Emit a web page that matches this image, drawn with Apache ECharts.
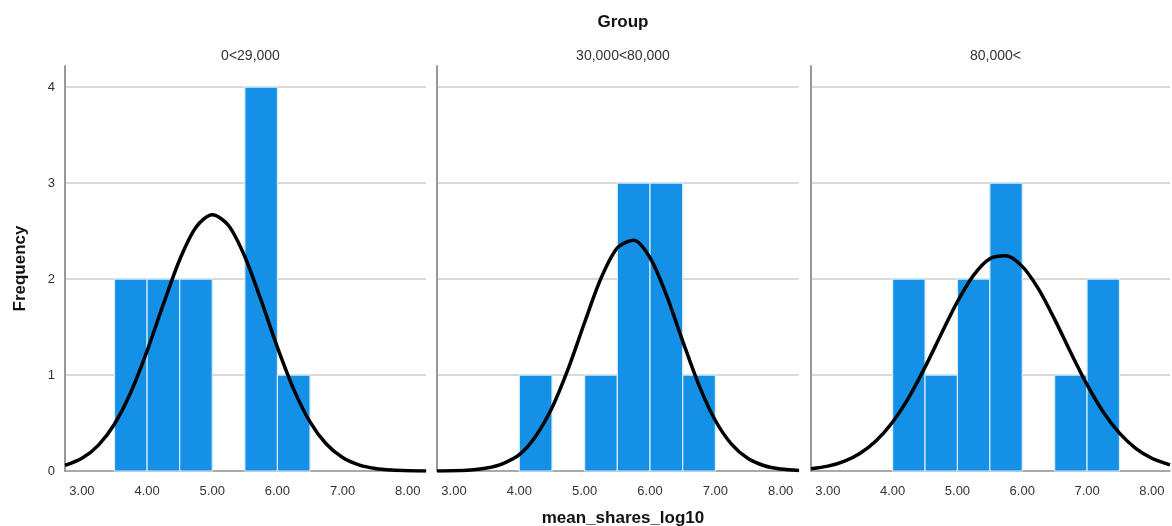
<!DOCTYPE html>
<html>
<head>
<meta charset="utf-8">
<script src="https://cdn.jsdelivr.net/npm/echarts@6/dist/echarts.min.js"></script>
<style>
html,body{margin:0;padding:0;background:#fff;}
#main{width:1172px;height:526px;}
</style>
</head>
<body>
<div id="main"></div>
<script>
// 分组名称
var groups = ['0<29,000', '30,000<80,000', '80,000<'];
// 直方图：每组的起点 (组宽 0.5)
var binWidth = 0.5;
var binStarts = [[3.5, 4.0, 4.5, 5.5, 6.0], [4.0, 5.0, 5.5, 6.0, 6.5], [4.0, 4.5, 5.0, 5.5, 6.5, 7.0]];
var binCounts = [[2, 2, 2, 4, 1], [1, 1, 3, 3, 1], [2, 1, 2, 3, 1, 2]];
// 正态曲线
var curveX = [2.74, 3.0, 3.25, 3.5, 3.75, 4.0, 4.25, 4.5, 4.75, 5.0, 5.25, 5.5, 5.75, 6.0, 6.25, 6.5, 6.75, 7.0, 7.25, 7.5, 7.75, 8.0, 8.28];
var curve1 = [0.058, 0.132, 0.267, 0.490, 0.820, 1.251, 1.738, 2.201, 2.539, 2.670, 2.558, 2.233, 1.777, 1.288, 0.851, 0.512, 0.281, 0.141, 0.064, 0.027, 0.010, 0.003, 0.001];
var curve2 = [0.001, 0.003, 0.011, 0.031, 0.078, 0.170, 0.363, 0.659, 1.069, 1.550, 2.008, 2.325, 2.405, 2.222, 1.835, 1.354, 0.893, 0.526, 0.277, 0.130, 0.055, 0.021, 0.006];
var curve3 = [0.024, 0.051, 0.101, 0.185, 0.317, 0.510, 0.767, 1.082, 1.428, 1.764, 2.041, 2.212, 2.244, 2.132, 1.897, 1.580, 1.232, 0.900, 0.615, 0.394, 0.236, 0.133, 0.064];
var curves = [curve1, curve2, curve3];
// 刻度
var xTicks = [3, 4, 5, 6, 7, 8];
var yTicks = [0, 1, 2, 3, 4];

var font = 'Liberation Sans, Arial, sans-serif';
var panelLeft = [65, 437, 811];
var panelWidth = [361, 362, 359];

var grids = [], xAxes = [], yAxes = [], series = [], titles = [];

titles.push({text: 'Group', left: 618, top: 9, textAlign: 'center',
    textStyle: {fontFamily: font, fontSize: 17, fontWeight: 'bold', color: '#111'}});
titles.push({text: 'mean_shares_log10', left: 618, top: 505, textAlign: 'center',
    textStyle: {fontFamily: font, fontSize: 17, fontWeight: 'bold', color: '#111'}});

for (var i = 0; i < 3; i++) {
    grids.push({left: panelLeft[i], top: 66, width: panelWidth[i], height: 405});
    titles.push({text: groups[i], left: panelLeft[i] + panelWidth[i] / 2, top: 44, textAlign: 'center',
        textStyle: {fontFamily: font, fontSize: 14, fontWeight: 'normal', color: '#333'}});
    xAxes.push({
        type: 'value', gridIndex: i, min: 2.74, max: 8.28,
        axisLine: {show: true, onZero: false, lineStyle: {color: '#999', width: 1.5}},
        axisTick: {show: false, customValues: xTicks},
        splitLine: {show: false},
        axisLabel: {customValues: xTicks, margin: 14, fontFamily: font, fontSize: 13, color: '#333',
            formatter: function (v) { return v.toFixed(2); }}
    });
    yAxes.push({
        type: 'value', gridIndex: i, min: 0, max: 4.22,
        name: i === 0 ? 'Frequency' : '', nameLocation: 'middle', nameGap: 36, nameRotate: 90,
        nameTextStyle: {fontFamily: font, fontSize: 17, fontWeight: 'bold', color: '#111'},
        axisLine: {show: true, lineStyle: {color: '#999', width: 2}},
        axisTick: {show: false, customValues: yTicks},
        splitLine: {show: true, lineStyle: {color: '#ccc', width: 1.5}},
        axisLabel: {show: i === 0, customValues: yTicks, margin: 10, fontFamily: font, fontSize: 13, color: '#333'}
    });
    var bars = binStarts[i].map(function (s, k) { return [s, s + binWidth, binCounts[i][k]]; });
    series.push({
        type: 'custom', xAxisIndex: i, yAxisIndex: i, data: bars, z: 2,
        renderItem: function (params, api) {
            var p0 = api.coord([api.value(0), api.value(2)]);
            var p1 = api.coord([api.value(1), 0]);
            return {
                type: 'rect',
                shape: {x: p0[0], y: p0[1], width: p1[0] - p0[0], height: p1[1] - p0[1]},
                style: {fill: '#1490e6', stroke: '#d6ecfb', lineWidth: 1.2}
            };
        }
    });
    series.push({
        type: 'line', xAxisIndex: i, yAxisIndex: i, z: 3,
        data: curveX.map(function (x, k) { return [x, curves[i][k]]; }),
        smooth: 0.3, showSymbol: false, symbol: 'none',
        lineStyle: {color: '#000', width: 3.5}
    });
}

var myChart = echarts.init(document.getElementById('main'));
myChart.setOption({
    animation: false,
    backgroundColor: '#fff',
    title: titles,
    grid: grids,
    xAxis: xAxes,
    yAxis: yAxes,
    series: series
});
</script>
</body>
</html>
